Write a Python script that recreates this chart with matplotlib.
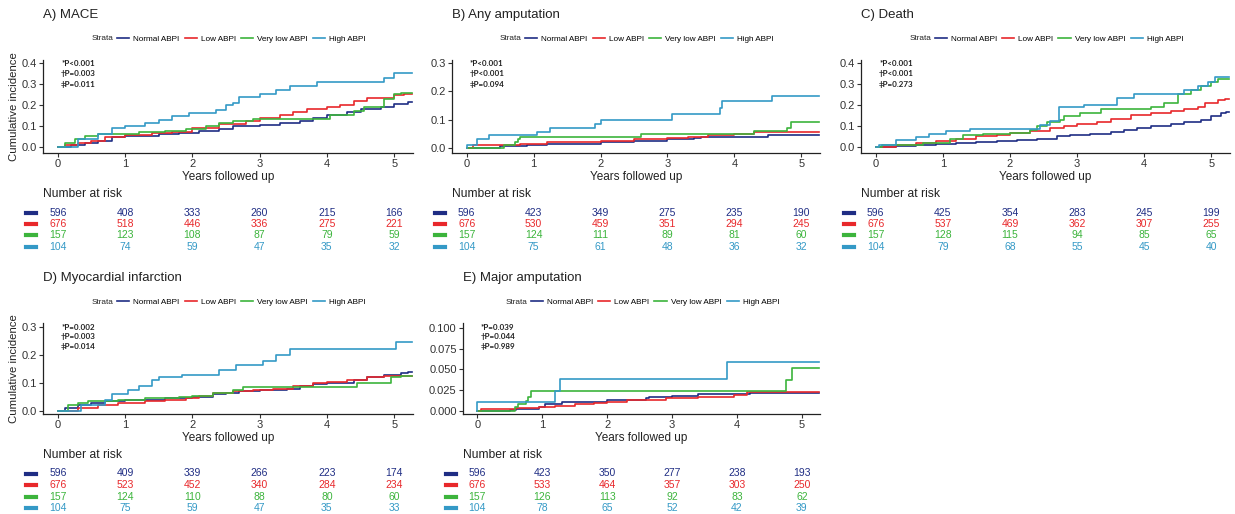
import matplotlib
matplotlib.use("Agg")
import matplotlib.pyplot as plt
from matplotlib.lines import Line2D
from matplotlib.transforms import blended_transform_factory
from matplotlib.ticker import FormatStrFormatter

plt.rcParams['font.family'] = ['Liberation Sans', 'DejaVu Sans']

# ---- data ----
strata = ["Normal ABPI", "Low ABPI", "Very low ABPI", "High ABPI"]
colors = ["#1f2d84", "#e8282b", "#3cb43c", "#3499c6"]
risk_times = [0, 1, 2, 3, 4, 5]
t_end = 5.27

# A) MACE  (time in years, cumulative incidence)
mace_normal = [(0, 0), (0.2, 0.01), (0.4, 0.02), (0.6, 0.03), (0.8, 0.045), (1.0, 0.05), (1.5, 0.06),
               (1.8, 0.065), (2.1, 0.075), (2.4, 0.085), (2.6, 0.1), (3.0, 0.105), (3.3, 0.115),
               (3.6, 0.125), (3.8, 0.14), (4.0, 0.15), (4.3, 0.165), (4.5, 0.18), (4.8, 0.19),
               (5.0, 0.205), (5.2, 0.215)]
mace_low = [(0, 0), (0.1, 0.01), (0.3, 0.02), (0.5, 0.03), (0.7, 0.045), (1.0, 0.055), (1.4, 0.065),
            (1.7, 0.07), (2.0, 0.09), (2.4, 0.11), (2.8, 0.125), (3.0, 0.14), (3.3, 0.15), (3.5, 0.165),
            (3.7, 0.18), (4.0, 0.19), (4.2, 0.2), (4.4, 0.22), (4.6, 0.235), (5.0, 0.245), (5.15, 0.25)]
mace_verylow = [(0, 0), (0.1, 0.02), (0.25, 0.04), (0.4, 0.05), (0.6, 0.06), (1.2, 0.07), (1.6, 0.075),
                (1.9, 0.085), (2.2, 0.1), (2.4, 0.115), (2.6, 0.125), (2.9, 0.135), (4.05, 0.15),
                (4.4, 0.17), (4.55, 0.19), (4.85, 0.23), (5.0, 0.25), (5.1, 0.255)]
mace_high = [(0, 0), (0.3, 0.04), (0.6, 0.06), (0.8, 0.09), (1.0, 0.1), (1.3, 0.115), (1.5, 0.13),
             (1.7, 0.145), (1.95, 0.16), (2.35, 0.175), (2.5, 0.2), (2.6, 0.21), (2.7, 0.24),
             (3.0, 0.25), (3.25, 0.27), (3.45, 0.29), (3.85, 0.31), (4.85, 0.33), (5.0, 0.35)]
mace_risk = [[596, 408, 333, 260, 215, 166], [676, 518, 446, 336, 275, 221],
             [157, 123, 108, 87, 79, 59], [104, 74, 59, 47, 35, 32]]
mace_p = ["*P<0.001", "\u2020P=0.003", "\u2021P=0.011"]

# B) Any amputation
amp_normal = [(0, 0), (0.5, 0.005), (0.9, 0.01), (1.2, 0.015), (2.0, 0.02), (2.5, 0.025), (3.0, 0.03),
              (3.4, 0.035), (3.5, 0.04), (4.5, 0.045)]
amp_low = [(0, 0), (0.1, 0.01), (0.8, 0.015), (1.2, 0.02), (2.0, 0.025), (2.5, 0.03), (3.0, 0.035),
           (3.3, 0.04), (3.6, 0.045), (4.0, 0.05), (4.3, 0.055)]
amp_verylow = [(0, 0), (0.55, 0.01), (0.72, 0.02), (0.77, 0.03), (0.8, 0.04), (2.6, 0.05), (4.3, 0.06),
               (4.78, 0.07), (4.85, 0.09)]
amp_high = [(0, 0), (0, 0.01), (0.16, 0.03), (0.33, 0.045), (1.05, 0.055), (1.25, 0.07), (1.92, 0.085),
            (2.0, 0.1), (3.07, 0.12), (3.78, 0.14), (3.82, 0.165), (4.57, 0.185)]
amp_risk = [[596, 423, 349, 275, 235, 190], [676, 530, 459, 351, 294, 245],
            [157, 124, 111, 89, 81, 60], [104, 75, 61, 48, 36, 32]]
amp_p = ["*P<0.001", "\u2020P<0.001", "\u2021P=0.094"]

# C) Death
death_normal = [(0, 0), (0.3, 0.005), (0.6, 0.01), (0.9, 0.015), (1.2, 0.02), (1.5, 0.025), (1.8, 0.03),
                (2.1, 0.035), (2.4, 0.04), (2.7, 0.05), (2.9, 0.055), (3.2, 0.06), (3.5, 0.07),
                (3.7, 0.08), (3.9, 0.09), (4.1, 0.1), (4.4, 0.11), (4.6, 0.12), (4.85, 0.13),
                (5.0, 0.145), (5.15, 0.16), (5.22, 0.165)]
death_low = [(0, 0), (0.3, 0.01), (0.6, 0.02), (0.9, 0.03), (1.2, 0.04), (1.5, 0.05), (1.8, 0.055),
             (2.0, 0.065), (2.3, 0.075), (2.6, 0.09), (2.8, 0.1), (3.0, 0.11), (3.3, 0.12),
             (3.5, 0.135), (3.8, 0.15), (4.1, 0.16), (4.4, 0.17), (4.6, 0.18), (4.8, 0.19),
             (4.9, 0.21), (5.1, 0.225), (5.2, 0.23)]
death_verylow = [(0, 0), (0.1, 0.01), (0.7, 0.02), (1.1, 0.04), (1.3, 0.055), (1.6, 0.06), (2.0, 0.065),
                 (2.3, 0.08), (2.4, 0.1), (2.55, 0.12), (2.75, 0.13), (2.8, 0.145), (3.05, 0.16),
                 (3.35, 0.18), (4.1, 0.19), (4.3, 0.21), (4.5, 0.25), (4.7, 0.27), (4.85, 0.29),
                 (5.0, 0.31), (5.1, 0.325)]
death_high = [(0, 0), (0.05, 0.01), (0.3, 0.035), (0.6, 0.045), (0.8, 0.06), (1.05, 0.075),
              (1.4, 0.085), (2.45, 0.105), (2.6, 0.125), (2.73, 0.19), (3.1, 0.2), (3.6, 0.235),
              (3.85, 0.25), (4.6, 0.27), (4.8, 0.29), (4.95, 0.31), (5.05, 0.335)]
death_risk = [[596, 425, 354, 283, 245, 199], [676, 537, 469, 362, 307, 255],
              [157, 128, 115, 94, 85, 65], [104, 79, 68, 55, 45, 40]]
death_p = ["*P<0.001", "\u2020P<0.001", "\u2021P=0.273"]

# D) Myocardial infarction
mi_normal = [(0, 0), (0.1, 0.01), (0.3, 0.02), (0.5, 0.03), (0.7, 0.035), (1.0, 0.04), (1.6, 0.045),
             (2.0, 0.05), (2.3, 0.06), (2.5, 0.065), (2.7, 0.07), (3.0, 0.075), (3.4, 0.08),
             (3.6, 0.09), (3.8, 0.095), (4.0, 0.1), (4.4, 0.11), (4.6, 0.12), (4.85, 0.13),
             (5.1, 0.135), (5.2, 0.14)]
mi_low = [(0, 0), (0.3, 0.01), (0.6, 0.02), (0.9, 0.03), (1.3, 0.035), (1.6, 0.04), (1.9, 0.045),
          (2.1, 0.055), (2.3, 0.065), (2.6, 0.07), (2.9, 0.075), (3.2, 0.08), (3.5, 0.09),
          (3.8, 0.1), (4.0, 0.105), (4.3, 0.11), (4.6, 0.12), (4.85, 0.125)]
mi_verylow = [(0, 0), (0.15, 0.02), (0.3, 0.03), (0.45, 0.035), (0.9, 0.04), (1.3, 0.045), (1.8, 0.05),
              (2.0, 0.055), (2.3, 0.065), (2.6, 0.075), (2.75, 0.085), (4.45, 0.1), (4.95, 0.12),
              (5.1, 0.125)]
mi_high = [(0, 0), (0.35, 0.02), (0.7, 0.04), (0.8, 0.06), (1.05, 0.075), (1.2, 0.09), (1.4, 0.11),
           (1.5, 0.12), (1.85, 0.13), (2.4, 0.145), (2.65, 0.165), (3.05, 0.18), (3.25, 0.2),
           (3.45, 0.22), (5.03, 0.245)]
mi_risk = [[596, 409, 339, 266, 223, 174], [676, 523, 452, 340, 284, 234],
           [157, 124, 110, 88, 80, 60], [104, 75, 59, 47, 35, 33]]
mi_p = ["*P=0.002", "\u2020P=0.003", "\u2021P=0.014"]

# E) Major amputation
major_normal = [(0, 0), (0.5, 0.001), (0.6, 0.002), (0.95, 0.004), (1.05, 0.008), (1.3, 0.01),
                (1.9, 0.011), (2.0, 0.013), (2.6, 0.015), (2.65, 0.017), (3.0, 0.018), (3.4, 0.02),
                (4.2, 0.021)]
major_low = [(0, 0), (0.05, 0.002), (0.6, 0.003), (0.95, 0.004), (1.2, 0.006), (1.5, 0.008),
             (1.8, 0.009), (2.0, 0.011), (2.3, 0.013), (2.9, 0.015), (3.4, 0.017), (3.95, 0.019),
             (4.15, 0.022)]
major_verylow = [(0, 0), (0.58, 0.004), (0.62, 0.008), (0.75, 0.012), (0.78, 0.016), (0.82, 0.024),
                 (4.75, 0.037), (4.85, 0.052)]
major_high = [(0, 0), (0, 0.01), (1.2, 0.024), (1.27, 0.038), (3.85, 0.059)]
major_risk = [[596, 423, 350, 277, 238, 193], [676, 533, 464, 357, 303, 250],
              [157, 126, 113, 92, 83, 62], [104, 78, 65, 52, 42, 39]]
major_p = ["*P=0.039", "\u2020P=0.044", "\u2021P=0.989"]

# ---- layout (pixel boxes: left, right, top, bottom) ----
W, H = 1235, 514
panels = [
    ("A) MACE", [mace_normal, mace_low, mace_verylow, mace_high], mace_risk, mace_p,
     (43, 413, 60, 153), (-0.029, 0.414), [0, 0.1, 0.2, 0.3, 0.4], "%.1f", True),
    ("B) Any amputation", [amp_normal, amp_low, amp_verylow, amp_high], amp_risk, amp_p,
     (452, 820, 60, 153), (-0.018, 0.311), [0, 0.1, 0.2, 0.3], "%.1f", False),
    ("C) Death", [death_normal, death_low, death_verylow, death_high], death_risk, death_p,
     (861, 1230, 60, 153), (-0.029, 0.414), [0, 0.1, 0.2, 0.3, 0.4], "%.1f", False),
    ("D) Myocardial infarction", [mi_normal, mi_low, mi_verylow, mi_high], mi_risk, mi_p,
     (43, 413, 323, 414), (-0.011, 0.314), [0, 0.1, 0.2, 0.3], "%.1f", True),
    ("E) Major amputation", [major_normal, major_low, major_verylow, major_high], major_risk, major_p,
     (463, 820, 323, 414), (-0.004, 0.106), [0, 0.025, 0.05, 0.075, 0.1], "%.3f", False),
]

fig = plt.figure(figsize=(W / 100, H / 100), dpi=100)
txt = "#222222"

for title, curves, risk, pvals, box, ylim, yticks, yfmt, ylab in panels:
    l, r, t, b = box
    ax = fig.add_axes([l / W, 1 - b / H, (r - l) / W, (b - t) / H])
    for pts, c, name in zip(curves, colors, strata):
        xs = [p[0] for p in pts] + [t_end]
        ys = [p[1] for p in pts] + [pts[-1][1]]
        ax.step(xs, ys, where="post", color=c, lw=1.2, label=name)
    ax.set_xlim(-0.22, 5.28)
    ax.set_ylim(*ylim)
    ax.set_xticks(risk_times)
    ax.set_yticks(yticks)
    ax.yaxis.set_major_formatter(FormatStrFormatter(yfmt))
    for s in ["top", "right"]:
        ax.spines[s].set_visible(False)
    for s in ["left", "bottom"]:
        ax.spines[s].set_linewidth(0.9)
        ax.spines[s].set_color("#222222")
    ax.tick_params(length=3, width=0.8, color="#333333", labelsize=8, labelcolor="#333333", pad=1.5)
    ax.set_xlabel("Years followed up", fontsize=8.5, color=txt, labelpad=1)
    if ylab:
        ax.set_ylabel("Cumulative incidence", fontsize=8.2, color=txt, labelpad=2)

    # title and legend
    fig.text(l / W, 1 - (t - 45) / H, title, fontsize=9.5, color=txt, va="center", ha="left")
    cx = (l + r) / 2
    fig.text((cx - 136) / W, 1 - (t - 21) / H, "Strata", fontsize=5.9, color=txt, va="center")
    fig.legend(*ax.get_legend_handles_labels(), loc="center left",
               bbox_to_anchor=((cx - 111) / W, 1 - (t - 21) / H), ncol=4, frameon=False,
               fontsize=5.9, handlelength=1.5, handletextpad=0.5, columnspacing=0.6, borderpad=0,
               borderaxespad=0)

    # p-values
    tr = blended_transform_factory(ax.transData, fig.transFigure)
    for i, s in enumerate(pvals):
        ax.text(0.05, 1 - (t + 4 + 10 * i) / H, s, transform=tr,
                fontsize=5.8, fontweight="bold", family=["Lato", "DejaVu Sans"], color=txt,
                va="center", ha="left")

    # number at risk table
    fig.text(l / W, 1 - (b + 41) / H, "Number at risk", fontsize=8.7, color=txt, va="center")
    for k, (row, c) in enumerate(zip(risk, colors)):
        yy = 1 - (b + 59.5 + 11.5 * k) / H
        fig.add_artist(Line2D([(l - 17) / W, (l - 7) / W], [yy, yy], color=c, lw=3))
        for tt, n in zip(risk_times, row):
            fig.text(tt, yy, str(n), transform=tr, fontsize=7.5, color=c, ha="center", va="center")

fig.savefig("out.png", dpi=100, facecolor="white")
